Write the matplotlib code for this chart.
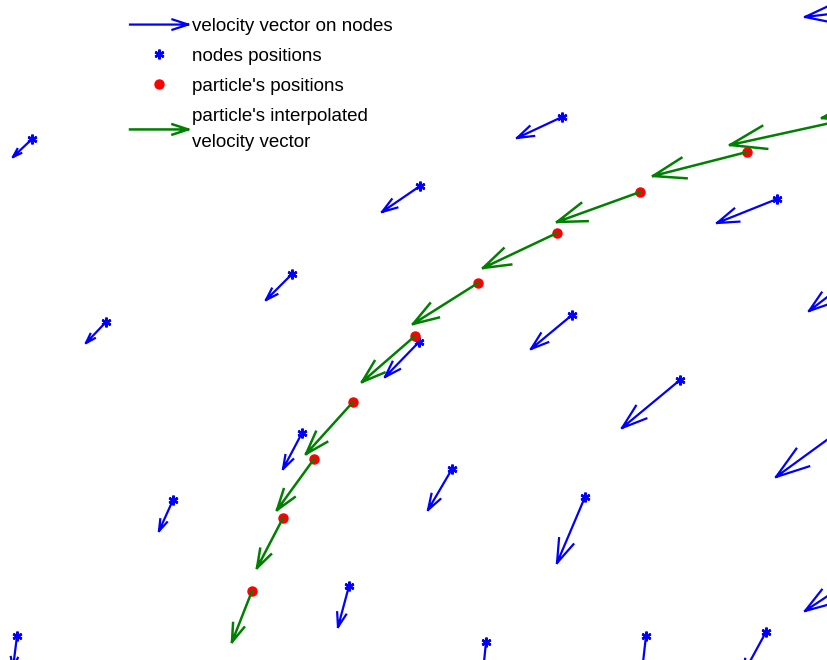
import numpy as np
import matplotlib.pyplot as plt
from matplotlib.lines import Line2D
from matplotlib.legend_handler import HandlerBase

# grid nodes: position and velocity on the node
node_x = [32, 106, 420, 562, 292, 419, 572, 680, 777, 860, 880,
          302, 452, 585, 349, 173, 17, 486, 646, 766, 857, 870]
node_y = [139, 322, 186, 117, 274, 342, 315, 380, 199, 272, 8,
          433, 469, 497, 586, 500, 636, 642, 636, 632, 418, 568]
node_u = [-19, -20, -38, -45, -26, -34, -41, -58, -60, -51, -75,
          -19, -24, -28, -11, -14, -4, -4, -5, -24, -81, -65]
node_v = [18, 21, 26, 21, 26, 35, 34, 48, 24, 39, 9,
          36, 41, 66, 41, 31, 32, 40, 44, 44, 59, 43]

# particle track: positions and interpolated velocity
part_x = [930, 835, 747, 640, 557, 478, 415, 353, 314, 283, 252]
part_y = [96, 122, 152, 192, 233, 283, 336, 402, 459, 518, 591]
part_u = [-108, -105, -94, -83, -74, -65, -53, -47, -37, -26, -20]
part_v = [22, 23, 24, 30, 35, 41, 46, 52, 51, 50, 51]

BLUE = '#0000ff'
GREEN = '#008000'
RED = '#ff0000'


def arrow_lines(x, y, u, v, alpha=0.33, beta=0.33):
    # shaft + two open barbs for each vector, joined by NaN breaks
    x = np.asarray(x, float); y = np.asarray(y, float)
    u = np.asarray(u, float); v = np.asarray(v, float)
    xs, ys = [], []
    for xi, yi, ui, vi in zip(x, y, u, v):
        tx, ty = xi + ui, yi + vi
        xs += [xi, tx, np.nan,
               tx - alpha * (ui + beta * vi), tx, tx - alpha * (ui - beta * vi), np.nan]
        ys += [yi, ty, np.nan,
               ty - alpha * (vi - beta * ui), ty, ty - alpha * (vi + beta * ui), np.nan]
    return xs, ys


class ArrowHandler(HandlerBase):
    def create_artists(self, legend, orig_handle, xdescent, ydescent,
                       width, height, fontsize, trans):
        y = height / 2 - ydescent
        x0, x1 = -xdescent, width - xdescent
        hl = 0.27 * (x1 - x0)
        hw = 0.33 * hl
        line = Line2D([x0, x1, np.nan, x1 - hl, x1, x1 - hl],
                      [y, y, np.nan, y + hw, y, y - hw],
                      color=orig_handle.get_color(),
                      lw=orig_handle.get_linewidth(), transform=trans)
        return [line]


fig = plt.figure(figsize=(8.27, 6.6), dpi=100)
ax = fig.add_axes([0, 0, 1, 1])
ax.set_xlim(0, 827)
ax.set_ylim(660, 0)
ax.axis('off')

bx, by = arrow_lines(node_x, node_y, node_u, node_v)
ax.plot(bx, by, color=BLUE, lw=1.6, zorder=2)
ax.plot(node_x, node_y, ls='none', marker=(6, 2, 0), ms=7, mew=1.8,
        color=BLUE, zorder=3)

ax.plot(part_x, part_y, ls='none', marker='o', ms=6.5, color=RED,
        mec=RED, zorder=3)
gx, gy = arrow_lines(part_x, part_y, part_u, part_v)
ax.plot(gx, gy, color=GREEN, lw=1.8, zorder=4)

h_vel = Line2D([], [], color=BLUE, lw=1.6)
h_node = Line2D([], [], ls='none', marker=(6, 2, 0), ms=7, mew=1.8, color=BLUE)
h_part = Line2D([], [], ls='none', marker='o', ms=6.5, color=RED)
h_interp = Line2D([], [], color=GREEN, lw=1.8)

leg = ax.legend([h_vel, h_node, h_part, h_interp],
                ['velocity vector on nodes', 'nodes positions',
                 "particle's positions", "particle's interpolated\nvelocity vector"],
                handler_map={h_vel: ArrowHandler(), h_interp: ArrowHandler()},
                loc='upper left', bbox_to_anchor=(130 / 827, 1 - 18 / 660),
                frameon=False, borderpad=0, borderaxespad=0,
                handlelength=3.1, handletextpad=0.2, labelspacing=0.68,
                numpoints=1, prop={'family': 'Liberation Sans', 'size': 13.5})
for t in leg.get_texts():
    t.set_linespacing(1.75)

fig.savefig('out.png', dpi=100)
